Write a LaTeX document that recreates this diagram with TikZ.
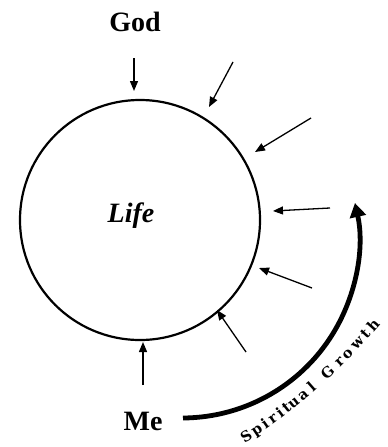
\documentclass[tikz,border=0pt]{standalone}
\usepackage{fontspec}
\setmainfont{Liberation Serif}
\newfontfamily\growthfont{DejaVu Serif}
\usetikzlibrary{arrows.meta}
\begin{document}
\begin{tikzpicture}[x=1pt,y=-1pt,
  ray/.style={line width=1.3pt,-{Triangle[length=10pt,width=8pt]}},
  lbl/.style={font=\fontsize{28}{28}\selectfont\bfseries,inner sep=0pt,anchor=base},
  gl/.style={font=\growthfont\fontsize{14.5}{14.5}\selectfont\bfseries,inner sep=0pt,anchor=mid,sloped}]
\useasboundingbox (0,0) rectangle (388,447);
% circle
\node[circle, draw, line width=2.2pt, minimum size=240pt, inner sep=0pt] (life) at (140,220) {};
\node[lbl, font=\fontsize{28}{28}\selectfont\bfseries\itshape] (lifetext) at (131,222.5) {Life};
\node[lbl] (god) at (135,31) {God};
\node[lbl] (me) at (143,430.5) {Me};
% rays
\coordinate (r1s) at (134,58);   \coordinate (r1e) at (134,91);
\coordinate (r2s) at (233,62);   \coordinate (r2e) at (209,107);
\coordinate (r3s) at (311,118);  \coordinate (r3e) at (255,152);
\coordinate (r4s) at (330,208);  \coordinate (r4e) at (273,211);
\coordinate (r5s) at (312,288);  \coordinate (r5e) at (259,268);
\coordinate (r6s) at (246,352);  \coordinate (r6e) at (217,310);
\coordinate (r7s) at (143,385);  \coordinate (r7e) at (143,342);
\foreach \i in {1,...,7} \draw[ray] (r\i s) -- (r\i e);
% growth arc
\coordinate (gs) at (183,418);
\draw[line width=4.8pt, -{Triangle[length=14pt,width=16pt]}] (gs) arc[start angle=89.7, end angle=-12.4, radius=177];
% text along a gentle curve
\coordinate (ts) at (244,441);
\coordinate (te) at (378.3,323.2);
\path (ts) .. controls (294,409.7) and (339.6,367.7) .. (te)
  node[gl,pos=.025] (c1) {S}
  node[gl,pos=.095] (c2) {p}
  node[gl,pos=.152] (c3) {i}
  node[gl,pos=.205] (c4) {r}
  node[gl,pos=.258] (c5) {i}
  node[gl,pos=.303] (c6) {t}
  node[gl,pos=.352] (c7) {u}
  node[gl,pos=.419] (c8) {a}
  node[gl,pos=.486] (c9) {l}
  node[gl,pos=.606] (c10) {G}
  node[gl,pos=.694] (c11) {r}
  node[gl,pos=.757] (c12) {o}
  node[gl,pos=.838] (c13) {w}
  node[gl,pos=.905] (c14) {t}
  node[gl,pos=.975] (c15) {h};
\end{tikzpicture}
\end{document}
